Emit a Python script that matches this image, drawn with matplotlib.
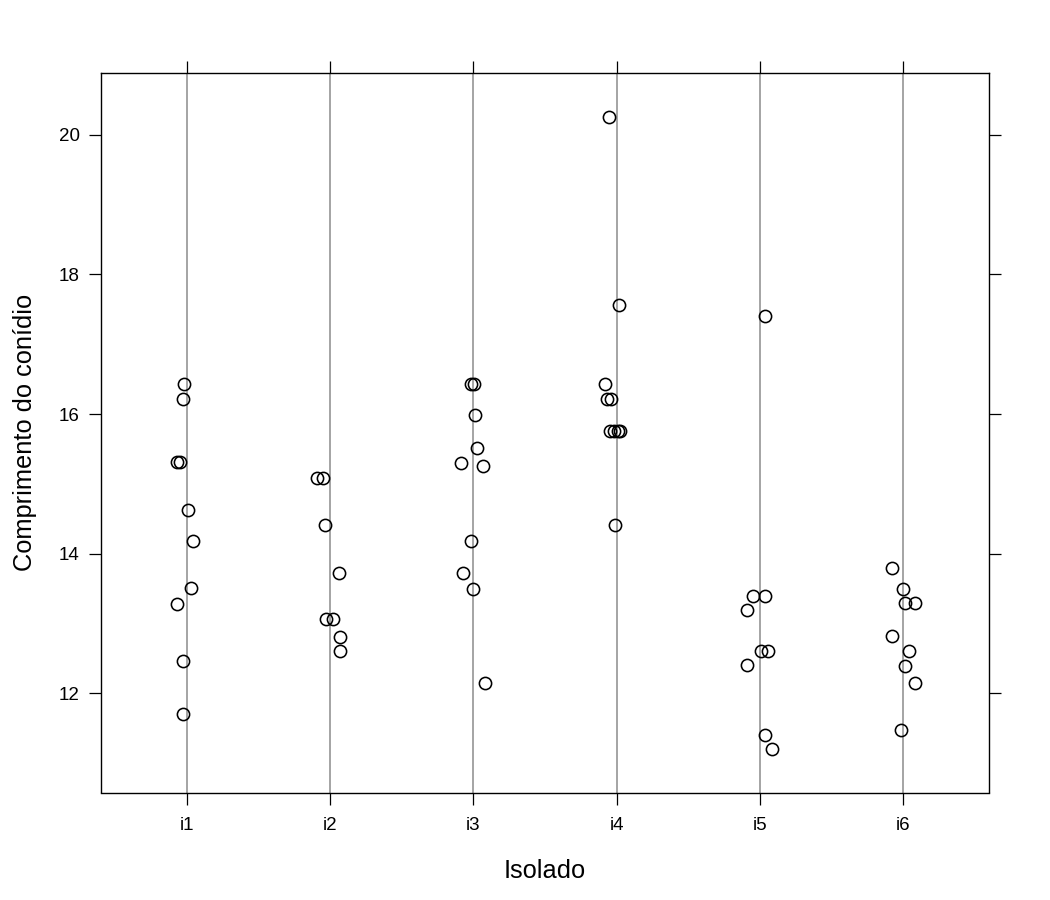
import matplotlib
matplotlib.use("Agg")
import matplotlib.pyplot as plt
import numpy as np

plt.rcParams['font.family'] = ['Liberation Sans', 'DejaVu Sans']

categories = ["i1", "i2", "i3", "i4", "i5", "i6"]

vals_i1 = [16.43, 16.21, 15.31, 15.31, 14.62, 14.18, 13.51, 13.28, 12.47, 11.70]
jit_i1 = [-0.021, -0.028, -0.068, -0.049, 0.009, 0.040, 0.030, -0.068, -0.026, -0.030]

vals_i2 = [15.09, 15.09, 14.41, 13.72, 13.06, 13.06, 12.81, 12.61]
jit_i2 = [-0.094, -0.047, -0.035, 0.060, -0.028, 0.018, 0.072, 0.072]

vals_i3 = [16.43, 16.43, 15.99, 15.52, 15.30, 15.25, 14.18, 13.73, 13.50, 12.15]
jit_i3 = [-0.014, 0.002, 0.011, 0.028, -0.086, 0.067, -0.017, -0.075, -0.005, 0.081]

vals_i4 = [20.26, 17.56, 16.43, 16.21, 16.21, 15.76, 15.76, 15.76, 15.76, 14.41]
jit_i4 = [-0.056, 0.019, -0.084, -0.065, -0.042, -0.044, -0.019, 0.009, 0.026, -0.009]

vals_i5 = [17.41, 13.40, 13.40, 13.20, 12.61, 12.61, 12.40, 11.41, 11.21]
jit_i5 = [0.038, -0.049, 0.038, -0.091, 0.007, 0.054, -0.091, 0.033, 0.082]

vals_i6 = [13.79, 13.50, 13.29, 13.29, 12.82, 12.61, 12.39, 12.15, 11.48]
jit_i6 = [-0.077, 0.003, 0.017, 0.084, -0.079, 0.040, 0.012, 0.086, -0.011]

yticks = [12, 14, 16, 18, 20]

all_vals = [vals_i1, vals_i2, vals_i3, vals_i4, vals_i5, vals_i6]
all_jit = [jit_i1, jit_i2, jit_i3, jit_i4, jit_i5, jit_i6]

fig = plt.figure(figsize=(10.5, 9), dpi=100)
ax = fig.add_axes([101/1050, 1 - 792.5/900, (989 - 101)/1050, (792.5 - 72.7)/900])

pos = np.arange(1, len(categories) + 1)
for p in pos:
    ax.axvline(p, color='#8c8c8c', lw=1.1, zorder=1)

for p, v, j in zip(pos, all_vals, all_jit):
    ax.plot(p + np.array(j), v, linestyle='none', marker='o', markersize=8.8,
            markerfacecolor='none', markeredgecolor='black', markeredgewidth=1.15, zorder=3)

ax.set_xlim(0.4, 6.6)
ax.set_ylim(10.58, 20.89)
ax.set_xticks(pos)
ax.set_xticklabels(categories)
ax.set_yticks(yticks)
ax.set_yticklabels([str(t) for t in yticks])

ax.tick_params(axis='x', pad=8.5)
ax.tick_params(axis='y', pad=6.5)
ax.tick_params(axis='both', direction='out', length=8.8, width=0.9, labelsize=13.5,
               top=True, right=True, labeltop=False, labelright=False, color='black')
for s in ax.spines.values():
    s.set_linewidth(1.0)
    s.set_color('black')

ax.set_xlabel("Isolado", fontsize=18.3, labelpad=18)
ax.set_ylabel("Comprimento do conídio", fontsize=18.3, labelpad=16)

fig.savefig("out.png", dpi=100)
